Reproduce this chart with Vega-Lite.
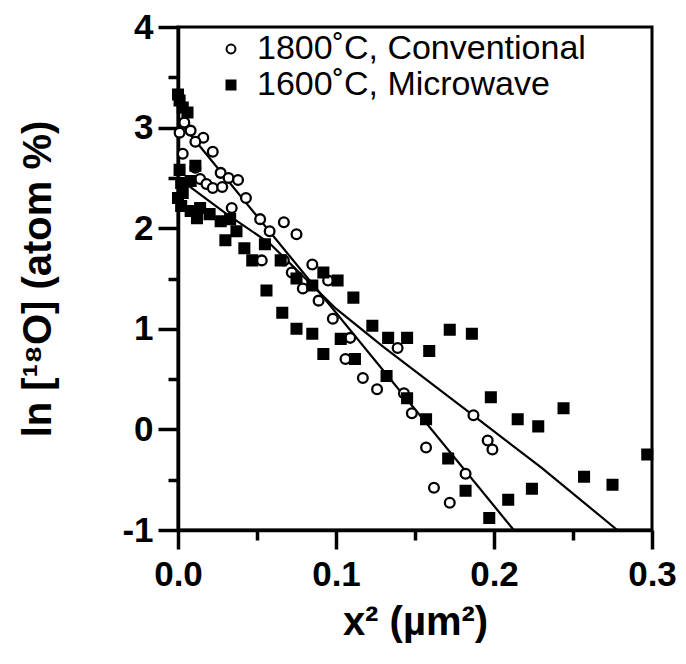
{
  "$schema": "https://vega.github.io/schema/vega-lite/v6.json",
  "autosize": {"type": "none"},
  "width": 474,
  "height": 503,
  "padding": {"left": 178, "top": 27, "right": 34, "bottom": 134},
  "background": "white",
  "config": {
    "view": {"stroke": "black", "strokeWidth": 3},
    "font": "Liberation Sans",
    "legend": {"labelFont": "Liberation Sans", "labelColor": "black", "labelLimit": 0},
    "axis": {
      "grid": false,
      "domainColor": "black",
      "domainWidth": 3.5,
      "tickColor": "black",
      "tickWidth": 3.5,
      "labelColor": "black",
      "labelFont": "Liberation Sans",
      "labelFontSize": 35,
      "labelFontWeight": "bold",
      "labelOverlap": false,
      "labelFlush": false,
      "titleColor": "black",
      "titleFont": "Liberation Sans",
      "titleFontSize": 40,
      "titleFontWeight": "bold"
    }
  },
  "datasets": {
    "fits": [
      {"fit": "conv", "x": 0.0, "y": 3.08},
      {"fit": "conv", "x": 0.2125, "y": -1.0},
      {"fit": "micro", "x": 0.0, "y": 2.5},
      {"fit": "micro", "x": 0.03, "y": 2.15},
      {"fit": "micro", "x": 0.058, "y": 1.85},
      {"fit": "micro", "x": 0.1, "y": 1.2},
      {"fit": "micro", "x": 0.13, "y": 0.82},
      {"fit": "micro", "x": 0.186, "y": 0.15},
      {"fit": "micro", "x": 0.23, "y": -0.38},
      {"fit": "micro", "x": 0.278, "y": -1.0}
    ],
    "points": [
      {"series": "1800˚C, Conventional", "x": 0.004, "y": 3.05},
      {"series": "1800˚C, Conventional", "x": 0.008, "y": 2.97},
      {"series": "1800˚C, Conventional", "x": 0.001, "y": 2.95},
      {"series": "1800˚C, Conventional", "x": 0.016, "y": 2.9},
      {"series": "1800˚C, Conventional", "x": 0.011, "y": 2.86},
      {"series": "1800˚C, Conventional", "x": 0.022, "y": 2.76},
      {"series": "1800˚C, Conventional", "x": 0.003, "y": 2.74},
      {"series": "1800˚C, Conventional", "x": 0.011, "y": 2.6},
      {"series": "1800˚C, Conventional", "x": 0.027, "y": 2.55},
      {"series": "1800˚C, Conventional", "x": 0.032, "y": 2.5},
      {"series": "1800˚C, Conventional", "x": 0.038, "y": 2.48},
      {"series": "1800˚C, Conventional", "x": 0.014, "y": 2.49},
      {"series": "1800˚C, Conventional", "x": 0.018, "y": 2.44},
      {"series": "1800˚C, Conventional", "x": 0.022, "y": 2.4},
      {"series": "1800˚C, Conventional", "x": 0.028, "y": 2.41},
      {"series": "1800˚C, Conventional", "x": 0.043, "y": 2.3},
      {"series": "1800˚C, Conventional", "x": 0.034, "y": 2.2},
      {"series": "1800˚C, Conventional", "x": 0.052, "y": 2.09},
      {"series": "1800˚C, Conventional", "x": 0.067, "y": 2.06},
      {"series": "1800˚C, Conventional", "x": 0.058, "y": 1.97},
      {"series": "1800˚C, Conventional", "x": 0.075, "y": 1.94},
      {"series": "1800˚C, Conventional", "x": 0.053, "y": 1.68},
      {"series": "1800˚C, Conventional", "x": 0.067, "y": 1.68},
      {"series": "1800˚C, Conventional", "x": 0.072, "y": 1.56},
      {"series": "1800˚C, Conventional", "x": 0.085, "y": 1.64},
      {"series": "1800˚C, Conventional", "x": 0.095, "y": 1.48},
      {"series": "1800˚C, Conventional", "x": 0.079, "y": 1.4},
      {"series": "1800˚C, Conventional", "x": 0.089, "y": 1.28},
      {"series": "1800˚C, Conventional", "x": 0.098, "y": 1.1},
      {"series": "1800˚C, Conventional", "x": 0.109, "y": 0.91},
      {"series": "1800˚C, Conventional", "x": 0.139, "y": 0.81},
      {"series": "1800˚C, Conventional", "x": 0.106, "y": 0.7},
      {"series": "1800˚C, Conventional", "x": 0.117, "y": 0.51},
      {"series": "1800˚C, Conventional", "x": 0.126, "y": 0.4},
      {"series": "1800˚C, Conventional", "x": 0.143, "y": 0.36},
      {"series": "1800˚C, Conventional", "x": 0.148, "y": 0.16},
      {"series": "1800˚C, Conventional", "x": 0.157, "y": -0.18},
      {"series": "1800˚C, Conventional", "x": 0.162, "y": -0.58},
      {"series": "1800˚C, Conventional", "x": 0.172, "y": -0.73},
      {"series": "1800˚C, Conventional", "x": 0.187, "y": 0.14},
      {"series": "1800˚C, Conventional", "x": 0.196, "y": -0.11},
      {"series": "1800˚C, Conventional", "x": 0.199, "y": -0.2},
      {"series": "1800˚C, Conventional", "x": 0.182, "y": -0.44},
      {"series": "1600˚C, Microwave", "x": 0.0, "y": 3.33},
      {"series": "1600˚C, Microwave", "x": 0.001, "y": 3.27},
      {"series": "1600˚C, Microwave", "x": 0.003, "y": 3.2},
      {"series": "1600˚C, Microwave", "x": 0.006, "y": 3.15},
      {"series": "1600˚C, Microwave", "x": 0.001, "y": 2.58},
      {"series": "1600˚C, Microwave", "x": 0.002, "y": 2.45},
      {"series": "1600˚C, Microwave", "x": 0.003, "y": 2.35},
      {"series": "1600˚C, Microwave", "x": 0.008, "y": 2.47},
      {"series": "1600˚C, Microwave", "x": 0.011, "y": 2.62},
      {"series": "1600˚C, Microwave", "x": 0.0, "y": 2.3},
      {"series": "1600˚C, Microwave", "x": 0.002, "y": 2.22},
      {"series": "1600˚C, Microwave", "x": 0.008, "y": 2.17},
      {"series": "1600˚C, Microwave", "x": 0.014, "y": 2.2},
      {"series": "1600˚C, Microwave", "x": 0.02, "y": 2.14},
      {"series": "1600˚C, Microwave", "x": 0.012, "y": 2.1},
      {"series": "1600˚C, Microwave", "x": 0.027, "y": 2.07},
      {"series": "1600˚C, Microwave", "x": 0.033, "y": 2.09},
      {"series": "1600˚C, Microwave", "x": 0.03, "y": 1.88},
      {"series": "1600˚C, Microwave", "x": 0.037, "y": 1.97},
      {"series": "1600˚C, Microwave", "x": 0.042, "y": 1.8},
      {"series": "1600˚C, Microwave", "x": 0.047, "y": 1.68},
      {"series": "1600˚C, Microwave", "x": 0.055, "y": 1.84},
      {"series": "1600˚C, Microwave", "x": 0.065, "y": 1.68},
      {"series": "1600˚C, Microwave", "x": 0.056, "y": 1.38},
      {"series": "1600˚C, Microwave", "x": 0.075, "y": 1.5},
      {"series": "1600˚C, Microwave", "x": 0.085, "y": 1.43},
      {"series": "1600˚C, Microwave", "x": 0.092, "y": 1.56},
      {"series": "1600˚C, Microwave", "x": 0.101, "y": 1.48},
      {"series": "1600˚C, Microwave", "x": 0.111, "y": 1.31},
      {"series": "1600˚C, Microwave", "x": 0.066, "y": 1.16},
      {"series": "1600˚C, Microwave", "x": 0.075, "y": 1.0},
      {"series": "1600˚C, Microwave", "x": 0.085, "y": 0.95},
      {"series": "1600˚C, Microwave", "x": 0.092, "y": 0.75},
      {"series": "1600˚C, Microwave", "x": 0.103, "y": 0.9},
      {"series": "1600˚C, Microwave", "x": 0.112, "y": 0.7},
      {"series": "1600˚C, Microwave", "x": 0.123, "y": 1.03},
      {"series": "1600˚C, Microwave", "x": 0.133, "y": 0.91},
      {"series": "1600˚C, Microwave", "x": 0.145, "y": 0.91},
      {"series": "1600˚C, Microwave", "x": 0.159, "y": 0.78},
      {"series": "1600˚C, Microwave", "x": 0.172, "y": 0.99},
      {"series": "1600˚C, Microwave", "x": 0.186, "y": 0.95},
      {"series": "1600˚C, Microwave", "x": 0.132, "y": 0.53},
      {"series": "1600˚C, Microwave", "x": 0.145, "y": 0.31},
      {"series": "1600˚C, Microwave", "x": 0.157, "y": 0.1},
      {"series": "1600˚C, Microwave", "x": 0.171, "y": -0.29},
      {"series": "1600˚C, Microwave", "x": 0.182, "y": -0.61},
      {"series": "1600˚C, Microwave", "x": 0.198, "y": 0.32},
      {"series": "1600˚C, Microwave", "x": 0.215, "y": 0.1},
      {"series": "1600˚C, Microwave", "x": 0.228, "y": 0.03},
      {"series": "1600˚C, Microwave", "x": 0.244, "y": 0.21},
      {"series": "1600˚C, Microwave", "x": 0.257, "y": -0.47},
      {"series": "1600˚C, Microwave", "x": 0.275, "y": -0.55},
      {"series": "1600˚C, Microwave", "x": 0.297, "y": -0.25},
      {"series": "1600˚C, Microwave", "x": 0.209, "y": -0.7},
      {"series": "1600˚C, Microwave", "x": 0.197, "y": -0.88},
      {"series": "1600˚C, Microwave", "x": 0.224, "y": -0.59}
    ]
  },
  "encoding": {
    "x": {
      "field": "x",
      "type": "quantitative",
      "scale": {"domain": [0, 0.3], "nice": false, "zero": false},
      "axis": {
        "title": "x² (µm²)",
        "values": [0, 0.05, 0.1, 0.15, 0.2, 0.25, 0.3],
        "labelExpr": "abs(round(datum.value*20)) % 2 == 0 ? format(datum.value, '.1f') : ''",
        "tickSize": {"condition": {"test": "abs(round(datum.value*20)) % 2 == 0", "value": 19}, "value": 10},
        "labelPadding": 8,
        "titlePadding": 10
      }
    },
    "y": {
      "field": "y",
      "type": "quantitative",
      "scale": {"domain": [-1, 4], "nice": false, "zero": false},
      "axis": {
        "title": "ln [¹⁸O] (atom %)",
        "values": [-1, -0.5, 0, 0.5, 1, 1.5, 2, 2.5, 3, 3.5, 4],
        "labelExpr": "datum.value % 1 == 0 ? '' + datum.value : ''",
        "tickSize": {"condition": {"test": "datum.value % 1 == 0", "value": 20}, "value": 10},
        "labelPadding": 5,
        "titlePadding": 63
      }
    }
  },
  "layer": [
    {
      "data": {"name": "fits"},
      "mark": {"type": "line", "color": "black", "strokeWidth": 2.2},
      "encoding": {"detail": {"field": "fit"}}
    },
    {
      "data": {"name": "points"},
      "mark": {"type": "point", "stroke": "black", "strokeWidth": 2.3, "opacity": 1, "fillOpacity": 1, "size": 95},
      "encoding": {
        "shape": {
          "field": "series",
          "type": "nominal",
          "scale": {"domain": ["1800˚C, Conventional", "1600˚C, Microwave"], "range": ["circle", "square"]},
          "legend": {"title": null, "orient": "none", "legendX": 36, "legendY": 5, "labelFontSize": 34, "symbolSize": 80, "symbolStrokeWidth": 2, "rowPadding": 2, "labelOffset": 9, "encode": {"labels": {"update": {"lineHeight": {"value": 26}}}}}
        },
        "fill": {
          "field": "series",
          "type": "nominal",
          "scale": {"domain": ["1800˚C, Conventional", "1600˚C, Microwave"], "range": ["white", "black"]},
          "legend": {"title": null, "orient": "none", "legendX": 36, "legendY": 5, "labelFontSize": 34, "symbolSize": 80, "symbolStrokeWidth": 2, "rowPadding": 2, "labelOffset": 9, "encode": {"labels": {"update": {"lineHeight": {"value": 26}}}}}
        }
      }
    }
  ]
}
